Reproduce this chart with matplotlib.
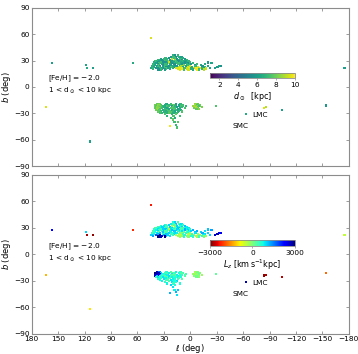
import numpy as np
import matplotlib
matplotlib.use("Agg")
import matplotlib.pyplot as plt
from matplotlib.colors import Normalize

# ---------------- data (l [deg], b [deg], d [kpc], Lz [km/s kpc]) ----------------
# upper (b>0) clump
up_l = [20, 17, 14,
        22, 19, 16, 13, 10,
        28, 24, 18, 12, 8,
        33, 30, 26, 21, 15, 11, 6,
        36, 32, 27, 23, 17, 13, 9, 4,
        38, 34, 29, 25, 20, 16, 12, 7, 2,
        40, 35, 31, 27, 22, 18, 14, 10, 5,
        41, 37, 33, 28, 24, 19, 15, 11, 6, 1,
        39, 35, 30, 26, 21, 17, 13, 8, 3, -3,
        42, 37, 32, 28, 23, 18, 14, 9, 4, -1, -8,
        40, 36, 31, 26, 22, 17, 12, 7, 2, -5, -12,
        43, 38, 34, 29, 24, 20, 15, 10, 5, 0, -6, -14, -20,
        41, 36, 31, 27, 22, 18, 13, 8, 3, -2, -9, -17,
        44, 39, 34, 30, 25, 20, 16, 11, 6, 1, -4, -11, -15, -22,
        42, 37, 32, 28, 23, 14, 9, 4, -1, -7, -13, -18,
        36, 33, 29, 12, 7, 2, -3, -8, -10, -16,
        -24, -20, -17, -28, -31, -33, -35]
up_b = [36] * 3 + [34] * 5 + [33] * 5 + [32] * 7 + [31] * 8 + [30] * 9 + [29] * 9 + \
       [28] * 10 + [27] * 10 + [26] * 11 + [25] * 11 + [24] * 13 + [23] * 12 + \
       [22] * 14 + [21] * 12 + [20] * 10 + [27, 28, 26, 22, 23, 24, 24]
up_d = [6.8, 5.5, 7.0,
        5.8, 7.2, 5.4, 6.8, 6.0,
        7.0, 5.6, 7.2, 6.0, 6.6,
        6.2, 7.0, 6.8, 9.0, 5.6, 7.1, 5.8,
        7.0, 5.5, 6.9, 5.6, 8.5, 6.6, 5.6, 7.1,
        6.8, 5.7, 7.3, 8.8, 5.6, 7.0, 5.5, 6.5, 6.9,
        7.2, 6.0, 5.6, 7.0, 5.8, 7.4, 5.4, 6.9, 6.2,
        6.5, 5.8, 7.2, 5.5, 9.2, 6.1, 7.0, 6.4, 5.6, 7.0,
        6.0, 7.3, 5.6, 6.0, 5.5, 6.8, 7.2, 6.2, 5.6, 6.9,
        7.0, 5.6, 6.4, 7.1, 6.5, 5.5, 7.2, 5.8, 6.8, 5.6, 7.2,
        6.3, 7.2, 5.5, 6.9, 6.0, 5.6, 6.6, 8.0, 7.0, 5.8, 6.5,
        6.8, 6.0, 5.5, 7.3, 5.7, 6.7, 5.9, 8.8, 6.3, 9.3, 7.0, 5.5, 6.3,
        6.2, 7.2, 6.1, 5.6, 7.5, 6.0, 9.0, 6.4, 9.5, 6.6, 9.2, 7.0,
        6.5, 5.8, 7.0, 5.6, 6.2, 6.8, 9.4, 9.7, 7.2, 9.8, 9.0, 9.6, 6.4, 6.0,
        7.0, 5.6, 6.2, 7.4, 6.4, 9.5, 9.8, 9.2, 6.5, 9.9, 6.8, 9.3,
        5.6, 7.0, 6.0, 9.6, 7.2, 9.4, 6.4, 9.8, 7.1, 9.0,
        6.2, 5.7, 6.5, 6.0, 5.8, 6.3, 5.5]
up_lz = [700, 1000, 400,
         800, 500, 1100, 300, 900,
         600, 1000, 200, 900, 500,
         600, 900, 400, -300, 1000, 700, 1100,
         400, 1000, 300, 1100, -200, 600, 1000, 800,
         500, 900, 300, -400, 1000, 700, 1100, 400, 900,
         300, 800, 1000, 500, 900, 200, 1100, 400, 800,
         600, 900, 400, 1100, -500, 700, 1000, 300, 1200, 700,
         800, 400, 1000, 700, 1100, 300, 900, 600, 1000, 1200,
         400, 1000, 600, 300, 800, 1100, 500, 900, 300, 1000, 1200,
         700, 300, 1100, 400, 800, 1000, 500, 200, 700, 1100, 1000,
         500, 900, 1100, 300, 1000, 500, 800, -100, 600, -300, 900, 1200, 1000,
         800, 1200, 600, 1100, 400, 900, -200, 500, -400, 500, -200, 900,
         1000, 1800, 2600, 1300, 1000, 500, -300, -500, 700, -400, -100, -300, 800, 1000,
         1300, 2800, 2500, 1200, 900, -200, -300, -100, 600, -400, 500, -200,
         3000, 2700, 2900, -300, 700, -100, 600, -300, 500, 0,
         1300, 1100, 900, 2600, 2800, 2500, 2400]

# lower (b<0) clump
lo_l = [38, 35, 27, 22, 16, 11, -6, -9,
        40, 36, 33, 29, 24, 19, 13, 8, -5, -8, -11,
        39, 35, 31, 26, 21, 17, 10, 5, -3, -7, -10,
        38, 34, 30, 25, 20, 15, 9, -6, -9, -13,
        40, 36, 32, 27, 22, 18, 12, 6, -4, -8,
        38, 34, 29, 24, 19, 14, -7, -10,
        39, 35, 31, 26, 21, 16, 11,
        37, 33, 28, 23, 18, 13,
        36, 30, 25, 20, 14, 9,
        34, 27, 22, 17,
        32, 24, 19, 15,
        29, 21, 16,
        26, 19, 12,
        22, 17,
        20,
        18, 14,
        16,
        15]
lo_b = [-20] * 8 + [-21] * 11 + [-22] * 11 + [-23] * 10 + [-24] * 10 + [-25] * 8 + \
       [-26] * 7 + [-27] * 6 + [-28] * 6 + [-29] * 4 + [-30] * 4 + [-31] * 3 + \
       [-33] * 3 + [-35] * 2 + [-37] + [-40] * 2 + [-43] + [-46]
lo_d = [7.8, 8.0, 6.5, 7.2, 6.0, 7.0, 8.5, 7.8,
        8.0, 8.5, 7.5, 6.5, 7.0, 7.8, 6.2, 7.2, 8.8, 7.5, 8.0,
        7.6, 8.2, 7.0, 7.5, 6.0, 6.8, 7.4, 7.0, 8.6, 8.3, 7.2,
        8.4, 7.8, 6.6, 7.2, 7.6, 6.0, 7.0, 8.9, 7.6, 8.2,
        7.8, 8.4, 7.2, 6.3, 7.6, 7.2, 6.5, 7.4, 8.0, 8.7,
        8.6, 7.5, 7.0, 6.4, 7.5, 6.2, 7.8, 8.4,
        8.0, 7.6, 6.6, 7.4, 6.3, 7.2, 6.5,
        8.2, 7.0, 6.5, 7.6, 6.4, 7.0,
        7.8, 6.8, 7.4, 7.0, 6.6, 7.5,
        7.4, 6.7, 7.6, 6.4,
        7.0, 7.8, 6.6, 7.2,
        7.4, 6.8, 7.7,
        6.8, 7.5, 7.2,
        7.2, 6.5,
        7.8,
        7.2, 7.6,
        7.0,
        7.4]
lo_lz = [2800, 1500, 600, 300, 800, 400, -200, 0,
         3000, 2700, 1000, 500, 800, 300, 700, 400, -300, 100, -100,
         2900, 2600, 700, 300, 900, 500, 200, 400, -200, -100, 200,
         2700, 1200, 600, 900, 300, 800, 500, -300, 0, -200,
         2600, 2400, 500, 800, 400, 200, 700, 300, -100, -200,
         1000, 600, 300, 900, 500, 800, 100, -100,
         400, 700, 900, 300, 800, 500, 700,
         900, 500, 800, 300, 700, 400,
         600, 900, 400, 800, 500, 300,
         700, 400, 900, 600,
         800, 300, 700, 1000,
         500, 900, 600,
         800, 500, 700,
         1000, 700,
         900,
         800, 1100,
         1200,
         900]

# isolated stars
iso_l = [45, 157, 118, 117, 110, 65, 164, 180, 114, 23, -29, -84, -86, -104, -154, -175, -63]
iso_b = [56, 27, 25, 22, 22, 27, -23, -25, -62, -44, -22, -24, -23, -26, -21, 22, -31]
iso_d = [9.5, 6.0, 6.3, 6.5, 6.0, 6.5, 9.5, 9.3, 6.2, 9.8, 7.5, 9.5, 9.0, 6.0, 5.8, 6.0, 6.5]
iso_lz = [-2300, 2300, 1000, -2800, -2900, -2200, -1300, -1200, -1000, 1200, 200,
          -2900, -2800, -2700, -1800, -500, 2800]

d_ticks = [2, 4, 6, 8, 10]
lz_ticks = [-3000, 0, 3000]
l_ticks = [180, 150, 120, 90, 60, 30, 0, -30, -60, -90, -120, -150, -180]
b_ticks = [-90, -60, -30, 0, 30, 60, 90]

# ---------------- plotting ----------------
L = np.array(up_l + lo_l + iso_l, float)
B = np.array(up_b + lo_b + iso_b, float)
D = np.array(up_d + lo_d + iso_d, float)
LZ = np.array(up_lz + lo_lz + iso_lz, float)

FS = 5.3
GRAY = "#8c8c8c"
fig = plt.figure(figsize=(3.58, 3.54), dpi=100)
ax1 = fig.add_axes([0.0885, 0.531, 0.886, 0.4465])
ax2 = fig.add_axes([0.0885, 0.0565, 0.886, 0.4505])

norm_d = Normalize(1, 10)
norm_lz = Normalize(-3000, 3000)
sc1 = ax1.scatter(L, B, c=D, cmap="viridis", norm=norm_d, s=2.6, marker="s", linewidths=0)
sc2 = ax2.scatter(L, B, c=LZ, cmap="jet_r", norm=norm_lz, s=2.6, marker="s", linewidths=0)

for ax in (ax1, ax2):
    ax.set_xlim(180, -180)
    ax.set_ylim(-90, 90)
    ax.set_xticks(l_ticks)
    ax.set_yticks(b_ticks)
    ax.tick_params(direction="in", top=True, right=True, length=2.2, width=0.6,
                   color=GRAY, labelsize=FS, pad=1.5)
    for s in ax.spines.values():
        s.set_color(GRAY)
        s.set_linewidth(0.8)
    ax.set_ylabel("$b$ (deg)", fontsize=FS + 0.7, labelpad=1)
    ax.text(162, 9, "[Fe/H]$\\,=-\\,$2.0", fontsize=FS, va="center", ha="left")
    ax.text(162, -5, "1 < d$_\\odot$ < 10 kpc", fontsize=FS, va="center", ha="left")
    ax.text(-70, -32, "LMC", fontsize=FS, va="center", ha="left")
    ax.text(-48, -44.5, "SMC", fontsize=FS, va="center", ha="left")

ax1.tick_params(labelbottom=False)
ax2.set_xlabel("$\\ell$ (deg)", fontsize=FS + 0.7, labelpad=0)

cax1 = fig.add_axes([0.5866, 0.779, 0.2374, 0.016])
cb1 = fig.colorbar(sc1, cax=cax1, orientation="horizontal", ticks=d_ticks)
cb1.set_label("$d_\\odot$  [kpc]", fontsize=FS + 0.5, labelpad=1)
cax2 = fig.add_axes([0.5866, 0.306, 0.2374, 0.016])
cb2 = fig.colorbar(sc2, cax=cax2, orientation="horizontal", ticks=lz_ticks)
cb2.set_label("$L_z$ [km$\\,$s$^{-1}$kpc]", fontsize=FS + 0.5, labelpad=1)
for cb in (cb1, cb2):
    cb.ax.tick_params(labelsize=FS, length=1.5, width=0.5, color=GRAY, pad=1.5)
    cb.outline.set_edgecolor(GRAY)
    cb.outline.set_linewidth(0.6)

fig.savefig("out.png", dpi=100)
